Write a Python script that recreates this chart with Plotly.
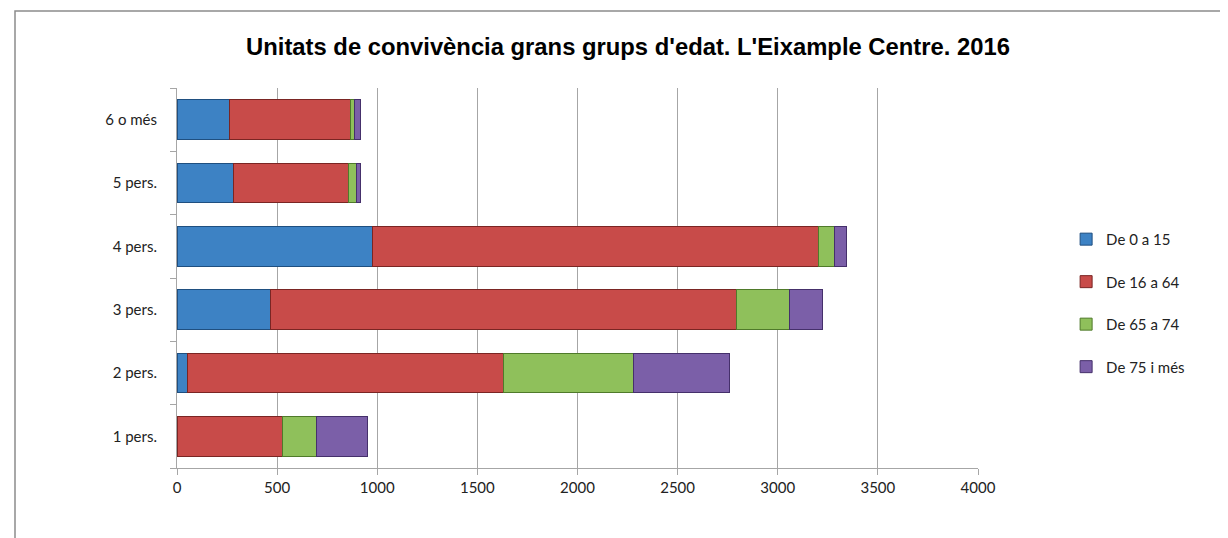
import plotly.graph_objects as go

categories = ["1 pers.", "2 pers.", "3 pers.", "4 pers.", "5 pers.", "6 o més"]
de_0_15 = [0, 53, 468, 974, 281, 260]
de_16_64 = [528, 1579, 2324, 2229, 574, 604]
de_65_74 = [170, 647, 269, 81, 39, 21]
de_75_mes = [254, 478, 163, 57, 20, 29]

series = [
    ("De 0 a 15", de_0_15, "#3d82c4", "#1f4f80"),
    ("De 16 a 64", de_16_64, "#c84b49", "#7a2523"),
    ("De 65 a 74", de_65_74, "#8fc05b", "#4f7a2a"),
    ("De 75 i més", de_75_mes, "#7b5fa8", "#45306b"),
]

fig = go.Figure()
for i, (name, vals, col, edge) in enumerate(series):
    fig.add_trace(go.Bar(
        y=categories, x=vals, name=name, orientation="h",
        marker=dict(color=col, line=dict(color=edge, width=1)),
        legendgroup=str(i),
    ))

# page body adds 8px margin, so the figure is laid out 8px up/left
W, H = 1220, 530
L, T = 169, 80
PW, PH = 801, 380

# outer chart frame
fig.add_shape(type="rect", xref="paper", yref="paper",
              x0=(7 - L) / PW, x1=1.5, y0=-0.4, y1=(T + PH - 3) / PH,
              line=dict(color="#8c8c8c", width=1.5), layer="below")

fig.update_layout(
    barmode="stack",
    bargap=0.37,
    width=W, height=H,
    margin=dict(l=L, r=W - L - PW, t=T, b=H - T - PH),
    paper_bgcolor="white", plot_bgcolor="white",
    font=dict(family="Lato, Open Sans, sans-serif", size=15, color="#222"),
    title=dict(text="<b>Unitats de convivència grans grups d'edat. L'Eixample Centre. 2016</b>",
               x=(628 - 8) / W, xanchor="center", y=1 - 39 / H, yanchor="middle",
               font=dict(family="Liberation Sans, Arial, sans-serif", size=23.8, color="black")),
    legend=dict(x=1.11, y=0.645, xanchor="left", yanchor="top",
                traceorder="grouped", tracegroupgap=20,
                font=dict(size=15), itemwidth=30),
    showlegend=True,
)
fig.update_xaxes(range=[0, 4000], dtick=500, showgrid=True, gridcolor="#a6a6a6",
                 gridwidth=1, showline=True, linecolor="#a6a6a6",
                 ticks="outside", ticklen=6, tickcolor="#a6a6a6", zeroline=False,
                 tickfont=dict(size=15))
fig.update_yaxes(type="category", categoryorder="array", categoryarray=categories,
                 showgrid=False, showline=True, linecolor="#a6a6a6",
                 ticks="outside", ticklen=6, tickcolor="#a6a6a6", tickson="boundaries",
                 ticklabelstandoff=16, tickfont=dict(size=15))

fig.write_html("out.html")
